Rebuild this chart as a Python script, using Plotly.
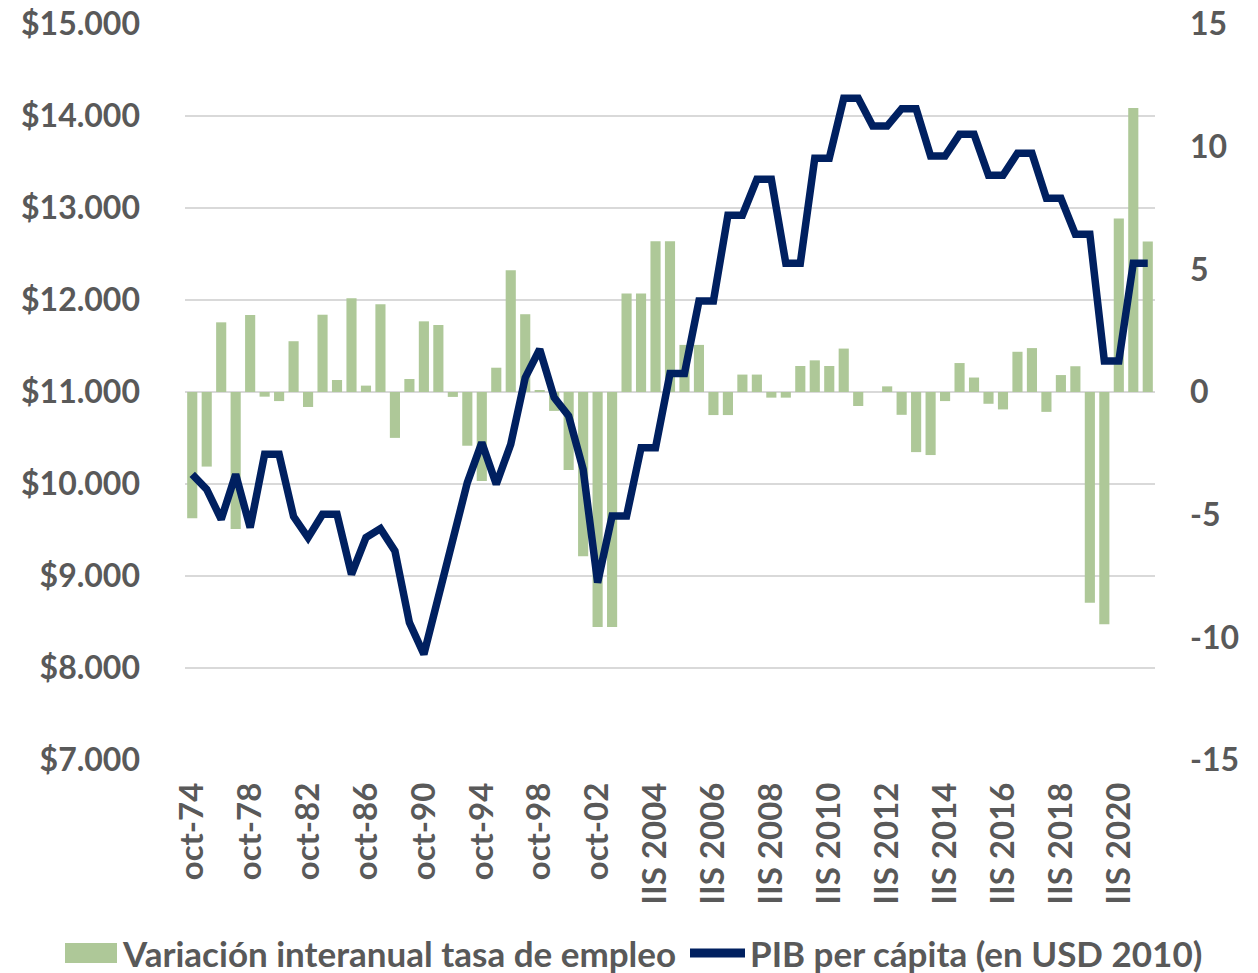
import plotly.graph_objects as go

# categories: annual (octubre) 1974-2002, then semesters 2003-2021
years_oct = list(range(1974, 2003))
categorias = ['oct-%02d' % (y % 100) for y in years_oct]
for y in range(2003, 2022):
    categorias += ['IS %d' % y, 'IIS %d' % y]

empleo = [-5.15, -3.04, 2.84, -5.58, 3.14, -0.19, -0.37, 2.07, -0.61, 3.15,
          0.49, 3.82, 0.26, 3.58, -1.87, 0.53, 2.88, 2.73, -0.2, -2.19,
          -3.63, 0.99, 4.96, 3.17, 0.05, -0.77, -3.18, -6.69, -9.58, -9.58,
          4.01, 4.01, 6.14, 6.14, 1.92, 1.92, -0.94, -0.94, 0.71, 0.71,
          -0.23, -0.23, 1.06, 1.29, 1.06, 1.77, -0.57, 0.0, 0.23, -0.93,
          -2.45, -2.57, -0.37, 1.18, 0.59, -0.48, -0.71, 1.64, 1.79, -0.81,
          0.69, 1.05, -8.59, -9.47, 7.07, 11.58, 6.13]

pib = [10105, 9942, 9616, 10105, 9526, 10323, 10323, 9646, 9417, 9671,
       9671, 9018, 9417, 9515, 9272, 8493, 8149, 8783, 9363, 10015,
       10450, 9997, 10432, 11156, 11464, 10939, 10739, 10160, 8928, 9652,
       9652, 10395, 10395, 11200, 11200, 11990, 11990, 12921, 12921, 13312,
       13312, 12399, 12399, 13540, 13540, 14192, 14192, 13891, 13891, 14080,
       14080, 13565, 13565, 13801, 13801, 13355, 13355, 13595, 13595, 13105,
       13105, 12714, 12714, 11337, 11337, 12399, 12399]

nombre_barras = 'Variación interanual tasa de empleo'
nombre_linea = 'PIB per cápita (en USD 2010)'

tick_cats = categorias[::4]
left_ticks = list(range(7000, 15001, 1000))
left_text = ['$%s' % format(v, ',').replace(',', '.') for v in left_ticks]
right_ticks = [-15, -10, -5, 0, 5, 10, 15]
right_text = [str(v) for v in right_ticks]

gris = '#595959'
verde = '#AEC898'
azul = '#002060'
fuente = dict(family='Lato', size=32, color=gris, weight='bold')
fuente_x = dict(family='Lato', size=33, color=gris, weight='bold')
fuente_ley = dict(family='Lato', size=35, color=gris, weight='bold')

# body margin is removed below, so the figure fills the window
W, H = 1258, 973
L, T, R, B = 185, 24, 1258 - 1155, 973 - 760


def px(x):
    return (x - L) / (W - L - R)


def py(y):
    return (H - B - y) / (H - B - T)


fig = go.Figure()
fig.add_trace(go.Bar(
    x=categorias, y=empleo, name=nombre_barras,
    marker=dict(color=verde, line=dict(width=0)), yaxis='y'))
fig.add_trace(go.Scatter(
    x=categorias, y=pib, name=nombre_linea, mode='lines',
    line=dict(color=azul, width=7.5), yaxis='y2'))

fig.update_layout(
    width=W, height=H,
    margin=dict(l=L, r=R, t=T, b=B),
    plot_bgcolor='white', paper_bgcolor='white',
    font=dict(family='Lato', color=gris),
    bargap=0.3,
    showlegend=False,
    xaxis=dict(type='category', categoryorder='array', categoryarray=categorias,
               tickmode='array', tickvals=tick_cats, ticktext=tick_cats,
               tickangle=-90, tickfont=fuente_x, showgrid=False,
               showline=False, ticks='', ticklabelstandoff=15,
               automargin=False),
    yaxis=dict(side='right', range=[-15, 15], tickvals=right_ticks,
               ticktext=right_text, tickfont=fuente, showgrid=False,
               zeroline=False, ticklabelstandoff=34, automargin=False,
               ticklabeloverflow='allow'),
    yaxis2=dict(side='left', overlaying='y', range=[7000, 15000],
                tickvals=left_ticks, ticktext=left_text, tickfont=fuente,
                showgrid=True, gridcolor='#D9D9D9', gridwidth=1.5,
                zeroline=False, ticklabelstandoff=44, automargin=False,
                ticklabeloverflow='allow'),
)

# legend drawn by hand, below the axis labels
fig.add_shape(type='rect', xref='paper', yref='paper',
              x0=px(65), x1=px(117), y0=py(963), y1=py(943),
              fillcolor=verde, line=dict(width=0))
fig.add_annotation(xref='paper', yref='paper', x=px(120), y=py(953),
                   xanchor='left', yanchor='middle', showarrow=False,
                   text=nombre_barras, font=fuente_ley)
fig.add_shape(type='line', xref='paper', yref='paper',
              x0=px(690), x1=px(745), y0=py(953), y1=py(953),
              line=dict(color=azul, width=9))
fig.add_annotation(xref='paper', yref='paper', x=px(748), y=py(953),
                   xanchor='left', yanchor='middle', showarrow=False,
                   text=nombre_linea, font=fuente_ley)

fig.write_html('out.html', config={'displayModeBar': False},
               post_script="document.body.style.margin='0';"
                           "document.body.style.overflow='hidden';")
